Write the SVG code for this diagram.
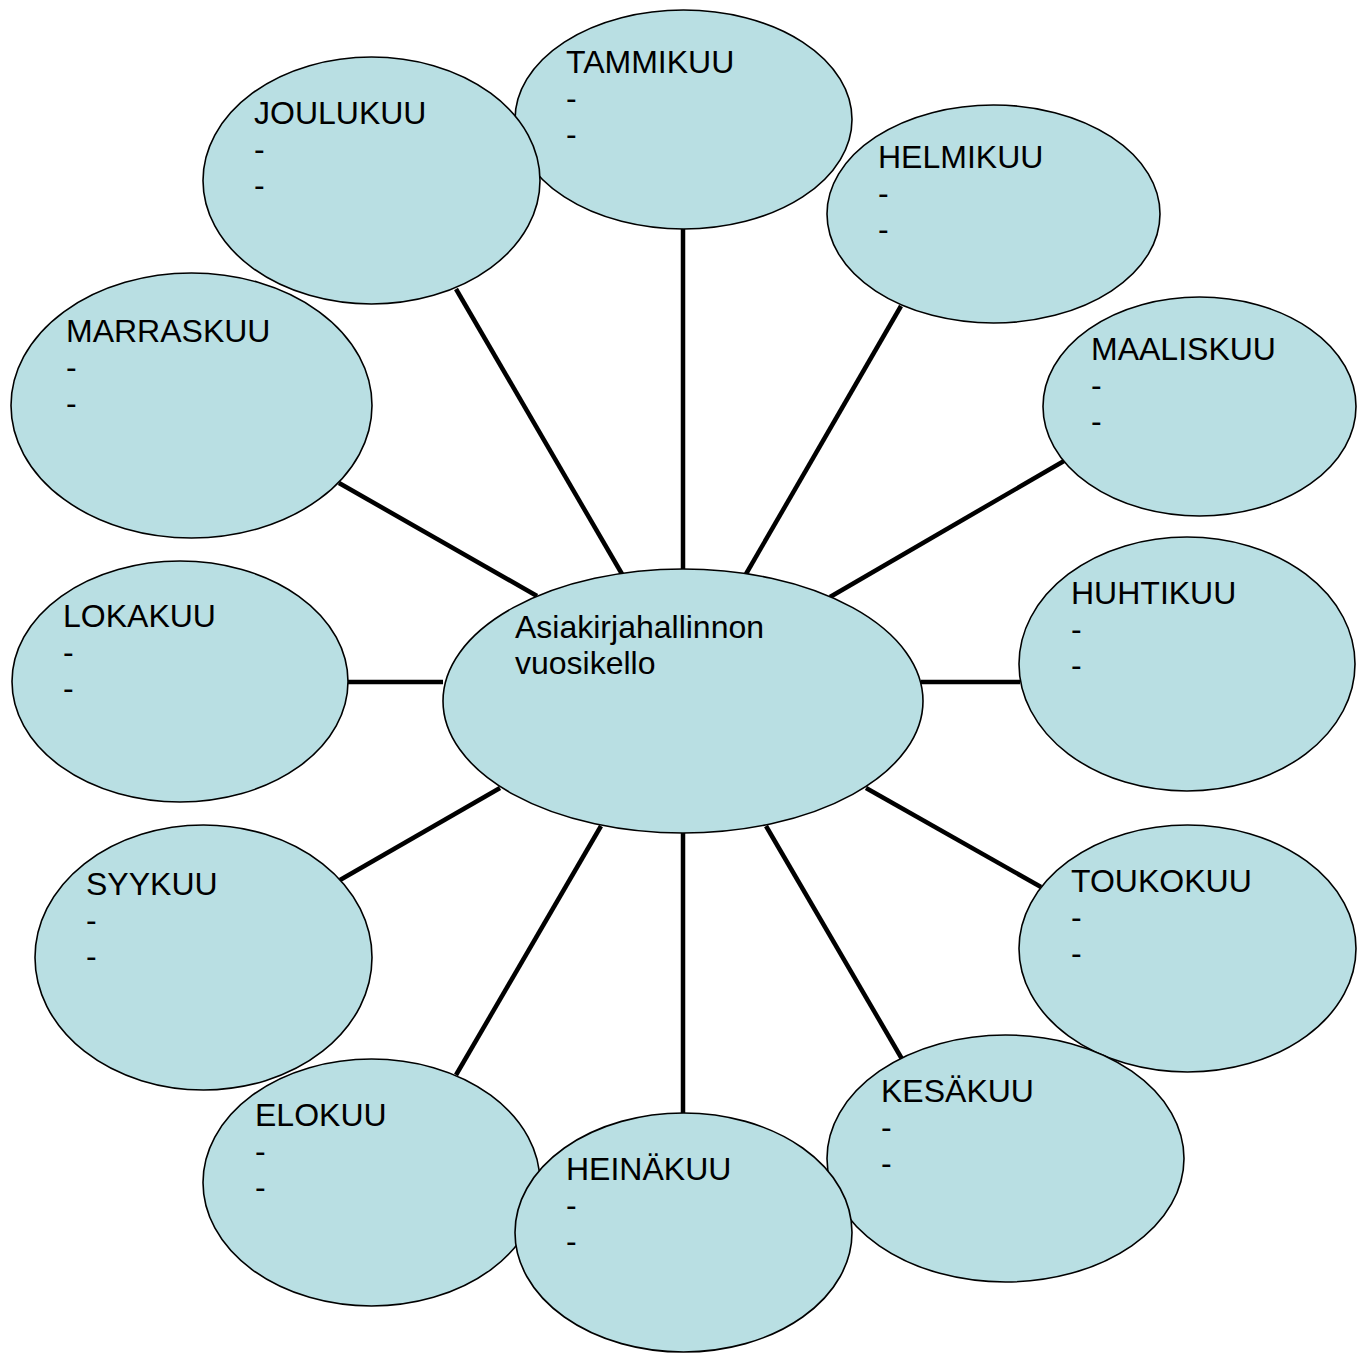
<svg xmlns="http://www.w3.org/2000/svg" width="1367" height="1353" viewBox="0 0 1367 1353">
<style>
.n ellipse{fill:#B9DFE3;stroke:#000;stroke-width:1.6}
.n text{font-family:"Liberation Sans",Arial,sans-serif;font-size:32px;fill:#000}
#connectors line{stroke:#000;stroke-width:4.5}
</style>
<rect width="1367" height="1353" fill="#fff"/>
<g id="connectors">
<line x1="683" y1="229" x2="683" y2="569"/>
<line x1="456" y1="289" x2="622" y2="574"/>
<line x1="901" y1="306" x2="746" y2="574"/>
<line x1="339" y1="483" x2="537" y2="596"/>
<line x1="1064" y1="461" x2="830" y2="597"/>
<line x1="348" y1="682" x2="443" y2="682"/>
<line x1="921" y1="682" x2="1020" y2="682"/>
<line x1="340" y1="880" x2="500" y2="788"/>
<line x1="866" y1="788" x2="1041" y2="887"/>
<line x1="456" y1="1075" x2="601" y2="826"/>
<line x1="683" y1="833" x2="683" y2="1113"/>
<line x1="766" y1="826" x2="902" y2="1059"/>
</g>
<g id="center" class="n"><ellipse cx="683" cy="701" rx="240" ry="132"/><text x="515" y="638">Asiakirjahallinnon</text><text x="515" y="674">vuosikello</text></g>
<g id="tammikuu" class="n"><ellipse cx="683.5" cy="119.5" rx="168.5" ry="109.5"/><text x="566" y="73">TAMMIKUU</text><text x="566" y="109">-</text><text x="566" y="145">-</text></g>
<g id="joulukuu" class="n"><ellipse cx="371.5" cy="180.5" rx="168.5" ry="123.5"/><text x="254" y="124">JOULUKUU</text><text x="254" y="160">-</text><text x="254" y="196">-</text></g>
<g id="helmikuu" class="n"><ellipse cx="993.5" cy="214" rx="166.5" ry="109"/><text x="878" y="168">HELMIKUU</text><text x="878" y="204">-</text><text x="878" y="240">-</text></g>
<g id="marraskuu" class="n"><ellipse cx="191.5" cy="405.5" rx="180.5" ry="132.5"/><text x="66" y="342">MARRASKUU</text><text x="66" y="378">-</text><text x="66" y="414">-</text></g>
<g id="maaliskuu" class="n"><ellipse cx="1199.5" cy="406.5" rx="156.5" ry="109.5"/><text x="1091" y="360">MAALISKUU</text><text x="1091" y="396">-</text><text x="1091" y="432">-</text></g>
<g id="lokakuu" class="n"><ellipse cx="180" cy="681.5" rx="168" ry="120.5"/><text x="63" y="627">LOKAKUU</text><text x="63" y="663">-</text><text x="63" y="699">-</text></g>
<g id="huhtikuu" class="n"><ellipse cx="1187" cy="664" rx="168" ry="127"/><text x="1071" y="604">HUHTIKUU</text><text x="1071" y="640">-</text><text x="1071" y="676">-</text></g>
<g id="syykuu" class="n"><ellipse cx="203.5" cy="957.5" rx="168.5" ry="132.5"/><text x="86" y="895">SYYKUU</text><text x="86" y="931">-</text><text x="86" y="967">-</text></g>
<g id="toukokuu" class="n"><ellipse cx="1187.5" cy="948.5" rx="168.5" ry="123.5"/><text x="1071" y="892">TOUKOKUU</text><text x="1071" y="928">-</text><text x="1071" y="964">-</text></g>
<g id="elokuu" class="n"><ellipse cx="371.5" cy="1182.5" rx="168.5" ry="123.5"/><text x="255" y="1126">ELOKUU</text><text x="255" y="1162">-</text><text x="255" y="1198">-</text></g>
<g id="kesakuu" class="n"><ellipse cx="1005.5" cy="1158.5" rx="178.5" ry="123.5"/><text x="881" y="1102">KESÄKUU</text><text x="881" y="1138">-</text><text x="881" y="1174">-</text></g>
<g id="heinakuu" class="n"><ellipse cx="683.5" cy="1232.5" rx="168.5" ry="119.5"/><text x="566" y="1180">HEINÄKUU</text><text x="566" y="1216">-</text><text x="566" y="1252">-</text></g>
</svg>
